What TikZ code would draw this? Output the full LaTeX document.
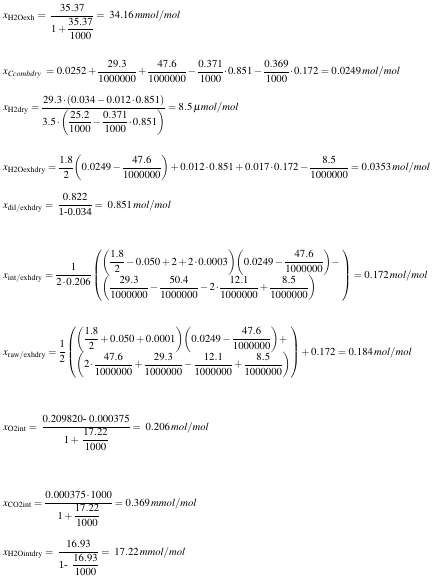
\documentclass[tikz,border=0pt]{standalone}
\usepackage{amsmath}
\usepackage{mathptmx}
\usepackage{fontspec}
\setmainfont{Liberation Serif}
\usepackage{tikz}
\usetikzlibrary{positioning}

\nulldelimiterspace=0.6pt\relax
\tikzset{eqn/.style={anchor=base west, inner sep=0pt, font=\fontsize{10.7}{13}\selectfont}}
\newcommand{\unitmol}[1]{\,\mathit{#1mol/mol}}
\newcommand{\pb}[1]{{\left(#1\right)}}
\newcommand{\cd}{\mskip1.5mu{\cdot}\mskip1.5mu}

\begin{document}
\begin{tikzpicture}[x=1pt,y=-1pt] % one px of the page = one pt
    \useasboundingbox (0,0) rectangle (447,580);
    \node[eqn] (h2oexh) at (3,19)
        {$x_{\mathrm{H2Oexh}} =\; \dfrac{35.37}{1+\dfrac{35.37}{1000}} =\; 34.16\unitmol{m}$};
    \node[eqn] (ccomb) at (3,75)
        {$x_{\mathit{Ccombdry}} \;= 0.0252+\dfrac{29.3}{1000000}+\dfrac{47.6}{1000000}-\dfrac{0.371}{1000}\cd0.851-\dfrac{0.369}{1000}\cd0.172 = 0.0249\unitmol{}$};
    \node[eqn] (h2dry) at (3,111)
        {$x_{\mathrm{H2dry}} = \dfrac{29.3\cd\pb{0.034-0.012\cd0.851}}{3.5\cd\pb{\dfrac{25.2}{1000}-\dfrac{0.371}{1000}\cd0.851}} = 8.5\,\mu\mathit{mol/mol}$};
    \node[eqn] (h2oexhdry) at (3,171)
        {$x_{\mathrm{H2Oexhdry}} = \dfrac{1.8}{2}\pb{0.0249-\dfrac{47.6}{1000000}}+0.012\cd0.851+0.017\cd0.172-\dfrac{8.5}{1000000} = 0.0353\unitmol{}$};
    \node[eqn] (dil) at (3,208)
        {$x_{\mathrm{dil/exhdry}} =\; \dfrac{0.822}{\text{1-0.034}} =\; 0.851\unitmol{}$};
    % two-row brackets
    \node[eqn] (int) at (3,278)
        {$x_{\mathrm{int/exhdry}} = \dfrac{1}{2\cd0.206}\left(\begin{array}{@{}l@{\;}}
            \pb{\dfrac{1.8}{2}-0.050+2+2\cd0.0003}\pb{0.0249-\dfrac{47.6}{1000000}}-\\[4pt]
            \pb{\dfrac{29.3}{1000000}-\dfrac{50.4}{1000000}-2\cd\dfrac{12.1}{1000000}+\dfrac{8.5}{1000000}}
            \end{array}\right) = 0.172\unitmol{}$};
    \node[eqn] (raw) at (3,355)
        {$x_{\mathrm{raw/exhdry}} = \dfrac{1}{2}\left(\begin{array}{@{}l@{}}
            \pb{\dfrac{1.8}{2}+0.050+0.0001}\pb{0.0249-\dfrac{47.6}{1000000}}+\\[4pt]
            \pb{2\cd\dfrac{47.6}{1000000}+\dfrac{29.3}{1000000}-\dfrac{12.1}{1000000}+\dfrac{8.5}{1000000}}
            \end{array}\right)+0.172 = 0.184\unitmol{}$};
    \node[eqn] (o2int) at (3,430)
        {$x_{\mathrm{O2int}} =\; \dfrac{0.209820\text{- }0.000375}{1+\;\dfrac{17.22}{1000}} =\; 0.206\unitmol{}$};
    \node[eqn] (co2int) at (3,506)
        {$x_{\mathrm{CO2int}} = \dfrac{0.000375\cd1000}{1+\dfrac{17.22}{1000}} = 0.369\unitmol{m}$};
    \node[eqn] (h2oint) at (3,555)
        {$x_{\mathrm{H2Ointdry}} =\; \dfrac{16.93}{\text{1- }\;\dfrac{16.93}{1000}} =\; 17.22\unitmol{m}$};
\end{tikzpicture}
\end{document}
